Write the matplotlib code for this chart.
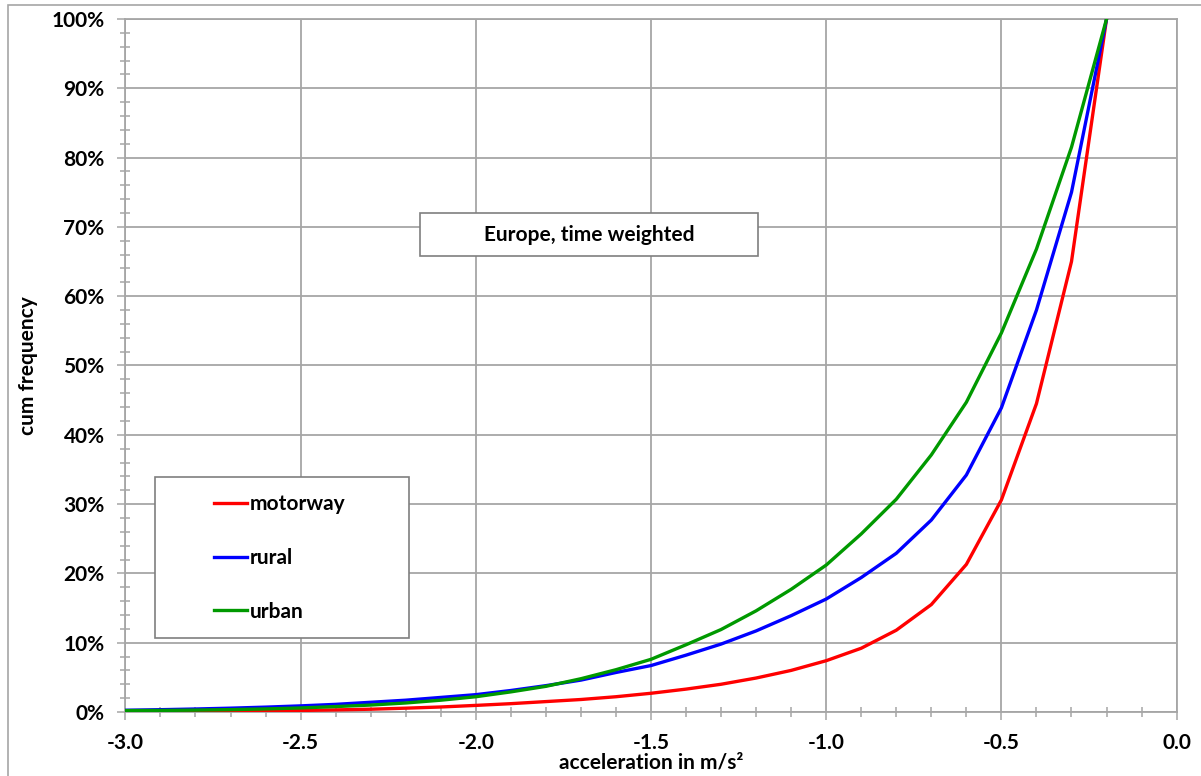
import numpy as np
import matplotlib

matplotlib.use("Agg")
import matplotlib.pyplot as plt
from matplotlib.patches import Rectangle
from matplotlib.ticker import MultipleLocator, PercentFormatter

plt.rcParams["font.family"] = ["Lato", "DejaVu Sans"]
plt.rcParams["font.weight"] = "bold"

# Data: cumulative frequency of deceleration values, Europe, time weighted
acceleration = [-3.0, -2.9, -2.8, -2.7, -2.6, -2.5, -2.4, -2.3, -2.2, -2.1,
                -2.0, -1.9, -1.8, -1.7, -1.6, -1.5, -1.4, -1.3, -1.2, -1.1,
                -1.0, -0.9, -0.8, -0.7, -0.6, -0.5, -0.4, -0.3, -0.2]

motorway = [0.05, 0.07, 0.1, 0.13, 0.17, 0.22, 0.3, 0.4, 0.55, 0.72,
            0.95, 1.2, 1.5, 1.8, 2.2, 2.7, 3.3, 4.0, 4.9, 6.0,
            7.4, 9.2, 11.8, 15.5, 21.3, 30.6, 44.5, 65.0, 100.0]

rural = [0.25, 0.33, 0.43, 0.55, 0.7, 0.88, 1.1, 1.4, 1.7, 2.1,
         2.5, 3.1, 3.8, 4.6, 5.7, 6.7, 8.2, 9.8, 11.7, 13.9,
         16.3, 19.4, 22.9, 27.7, 34.2, 43.9, 58.0, 75.0, 100.0]

urban = [0.2, 0.22, 0.27, 0.34, 0.44, 0.58, 0.78, 1.0, 1.3, 1.7,
         2.2, 2.9, 3.7, 4.8, 6.1, 7.6, 9.7, 11.9, 14.6, 17.7,
         21.2, 25.7, 30.7, 37.1, 44.7, 54.7, 66.8, 81.5, 100.0]

series = [("motorway", motorway, "#ff0000"),
          ("rural", rural, "#0000ff"),
          ("urban", urban, "#009900")]

grey = "#a6a6a6"

fig = plt.figure(figsize=(12.01, 7.76), dpi=100)
ax = fig.add_axes([0.1044, 0.0825, 0.8753, 0.893])

# outer chart frame (left and top edges visible)
fig.patches.append(Rectangle((8 / 1201, -0.1), 1.2, 1 - 5 / 776 + 0.1,
                             transform=fig.transFigure, fill=False,
                             edgecolor=grey, linewidth=1.2))

for name, values, color in series:
    ax.plot(acceleration, values, color=color, linewidth=2.4, label=name,
            zorder=3, solid_joinstyle="miter")

ax.set_xlim(-3.0, 0.0)
ax.set_ylim(0, 100)
ax.xaxis.set_major_locator(MultipleLocator(0.5))
ax.xaxis.set_minor_locator(MultipleLocator(0.1))
ax.yaxis.set_major_locator(MultipleLocator(10))
ax.yaxis.set_minor_locator(MultipleLocator(2))
ax.yaxis.set_major_formatter(PercentFormatter(100, decimals=0))
ax.xaxis.set_major_formatter(lambda v, pos: f"{v:.1f}")

ax.grid(True, which="major", color=grey, linewidth=1.3, zorder=0)
ax.set_axisbelow(True)
for spine in ax.spines.values():
    spine.set_color(grey)
    spine.set_linewidth(1.3)

ax.tick_params(which="major", direction="out", length=6, width=1.1,
               color=grey, labelsize=15, pad=9)
ax.tick_params(which="minor", direction="inout", length=7, width=1.1,
               color=grey)
for lbl in ax.get_xticklabels() + ax.get_yticklabels():
    lbl.set_fontweight("bold")

ax.set_xlabel("acceleration in m/s²", fontsize=15, fontweight="bold",
              labelpad=0)
ax.set_ylabel("cum frequency", fontsize=15, fontweight="bold", labelpad=10)

# title box
ax.add_patch(Rectangle((0.2803, 0.658), 0.3215, 0.062, transform=ax.transAxes,
                       facecolor="white", edgecolor="#7f7f7f", linewidth=1.2,
                       zorder=4))
ax.text(0.441, 0.688, "Europe, time weighted", transform=ax.transAxes,
        ha="center", va="center", fontsize=15, fontweight="bold", zorder=5)

# legend box
ax.add_patch(Rectangle((0.0282, 0.1068), 0.2416, 0.2322, transform=ax.transAxes,
                       facecolor="white", edgecolor="#7f7f7f", linewidth=1.2,
                       zorder=4))
leg = ax.legend(loc="center left", bbox_to_anchor=(214 / 1201, 1 - 558 / 776),
                bbox_transform=fig.transFigure, frameon=False,
                fontsize=15, handlelength=1.6, handletextpad=0.1,
                labelspacing=1.62, borderpad=0, borderaxespad=0)
leg.set_zorder(6)
for t in leg.get_texts():
    t.set_fontweight("bold")

fig.savefig("out.png", dpi=100)
